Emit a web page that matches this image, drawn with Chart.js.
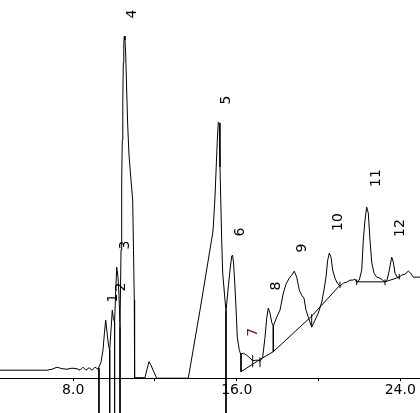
<!DOCTYPE html>
<html><head><meta charset="utf-8">
<script src="https://cdn.jsdelivr.net/npm/chart.js@4.4.1/dist/chart.umd.min.js"></script>
<style>html,body{margin:0;padding:0;background:#fff;overflow:hidden}canvas{display:block}</style>
</head><body>
<canvas id="c" width="420" height="413"></canvas>
<script>
// Retention time (min) and detector signal (arbitrary units) of the trace
const traceTime = [4.419,6.718,6.963,7.207,7.452,7.697,7.941,8.186,8.333,8.479,8.626,8.773,8.920,9.067,
  9.213,9.360,9.458,9.531,9.590,9.654,9.727,
  9.786,9.849,9.913,9.962,10.025,10.074,10.128,10.192,10.241,10.290,
  10.339,10.373,10.402,10.427,10.451,10.476,10.500,10.534,10.569,10.617,
  10.666,10.730,10.828,10.911,10.950,10.989,11.004,
  11.513,11.611,11.708,11.806,11.953,12.085,
  13.631,14.204,
  14.825,14.854,14.937,15.050,15.099,15.148,15.182,15.265,15.314,15.427,15.476,
  15.588,15.671,15.755,15.794,15.843,15.916,15.989,16.028,16.126,16.195,
  16.322,16.488,16.650,16.782,16.943,17.056,17.139,
  17.271,17.384,17.467,17.545,17.628,17.711,17.790,
  17.956,18.117,18.279,18.411,18.572,18.690,18.817,18.935,19.062,
  19.179,19.292,19.390,19.502,19.585,19.668,
  19.830,19.991,20.158,20.270,20.368,20.451,20.529,20.613,20.696,
  20.808,20.921,21.053,21.214,21.381,21.542,21.674,21.787,21.870,
  21.997,22.115,22.193,22.276,22.359,22.438,22.521,22.604,22.716,
  22.848,23.010,23.142,23.255,23.367,23.465,23.582,
  23.661,23.744,23.856,23.954,24.072,24.233,
  24.394,24.512,24.639,24.805,24.967];
const traceSignal = [8,8,9,11,9.5,9,10,9.5,8,11,8,10.5,8,11,
  9,16,28,46,58,46,33,
  28,48,68,60,56,83,111,101,83,51,
  128,198,238,278,315,335,342,338,323,288,
  253,223,198,178,128,78,0.5,
  0.5,9,16.5,13,6,0,
  0,68,
  145,151,181,238,256,255,211,138,105,78,67,
  91,108,122,123,116,91,60,41,28,24,
  25,23,20,17.5,18,18,17,
  21,41,60,70,65,56,52,
  61,68,85,94,100,103,107,101,88,
  83,80,68,61,56,51,
  58,65,76,88,101,118,125,121,108,
  100,95,92,95,96,98,98,99,96,
  98,108,138,158,171,165,138,116,105,
  101,100,98,96,99,108,121,
  116,105,101,101,103,104,
  107,105,101,101,101];

// Integration baselines (polylines)
const base1Time = [16.210,16.782,17.139,17.790,19.668,21.053];
const base1Signal = [6.5,14,18.7,26.5,62,93];
const base2Time = [21.870,23.255,23.954];
const base2Signal = [96.3,96.3,101];

// Vertical marks: drop lines and peak-boundary ticks
const markTime = [9.26,9.786,10.025,10.290,15.476,16.210,17.790,19.668,16.782,17.139,21.053,21.870,23.255,23.954];
const markFrom = [10,28,56,51,67,24.5,52,51,11,11,90,93,93,98.7];
const markTo   = [-60,-60,-60,-60,-60,6.5,26.5,64,23,21,96.5,98.7,98.7,104];

// Peak labels
const peakNames = ['1','2','3','4','5','6','7','8','9','10','11','12'];
const peakLabelTime = [9.947,10.339,10.559,10.877,15.476,16.161,16.797,17.946,19.194,20.955,22.814,24.013];
const peakLabelSignal = [80,91,133,364,278,146,46,92,130,156,200,150];
const peakColors = ['#000','#000','#000','#000','#000','#000','#7a1414','#000','#000','#000','#000','#000'];

// Axis ticks
const tickValues = [8,12,16,20,24];
const tickLabels = ['8.0','','16.0','','24.0'];

const pts = (xs, ys) => xs.map((x, i) => ({x: x, y: ys[i]}));
const lineDs = (data, extra) => Object.assign({
  data: data, borderColor: '#000', borderWidth: 1, pointRadius: 0,
  showLine: true, tension: 0, borderJoinStyle: 'round', fill: false
}, extra || {});

const datasets = [
  lineDs(pts(traceTime, traceSignal)),
  lineDs(pts(base1Time, base1Signal)),
  lineDs(pts(base2Time, base2Signal))
];
markTime.forEach((t, i) => {
  datasets.push(lineDs([{x: t, y: markFrom[i]}, {x: t, y: markTo[i]}], {clip: false}));
});

const labelPlugin = {
  id: 'peakLabels',
  afterDatasetsDraw(chart) {
    const ctx = chart.ctx, xs = chart.scales.x, ys = chart.scales.y;
    ctx.save();
    ctx.font = '14px "DejaVu Sans"';
    ctx.textAlign = 'center';
    ctx.textBaseline = 'middle';
    peakNames.forEach((n, i) => {
      const px = xs.getPixelForValue(peakLabelTime[i]);
      const py = ys.getPixelForValue(peakLabelSignal[i]);
      ctx.save();
      ctx.translate(px, py);
      ctx.rotate(-Math.PI / 2);
      ctx.fillStyle = peakColors[i];
      ctx.fillText(n, 0, 0);
      ctx.restore();
    });
    ctx.restore();
  }
};

new Chart(document.getElementById('c'), {
  type: 'scatter',
  data: {datasets: datasets},
  options: {
    responsive: false,
    animation: false,
    devicePixelRatio: 1,
    layout: {padding: {top: 0, left: 0, right: 0, bottom: 13}},
    plugins: {legend: {display: false}, tooltip: {enabled: false}},
    scales: {
      x: {
        type: 'linear', min: 4.419, max: 24.967,
        afterBuildTicks: (axis) => { axis.ticks = tickValues.map(v => ({value: v})); },
        ticks: {
          autoSkip: false, maxRotation: 0, padding: 1, color: '#000',
          font: {family: '"DejaVu Sans"', size: 14},
          callback: (v, i) => tickLabels[i]
        },
        grid: {display: true, drawOnChartArea: false, drawTicks: true, tickLength: 3, color: '#000'},
        border: {display: true, color: '#000', width: 1}
      },
      y: {type: 'linear', min: 0, max: 378, display: false}
    }
  },
  plugins: [labelPlugin]
});
</script>
</body></html>
